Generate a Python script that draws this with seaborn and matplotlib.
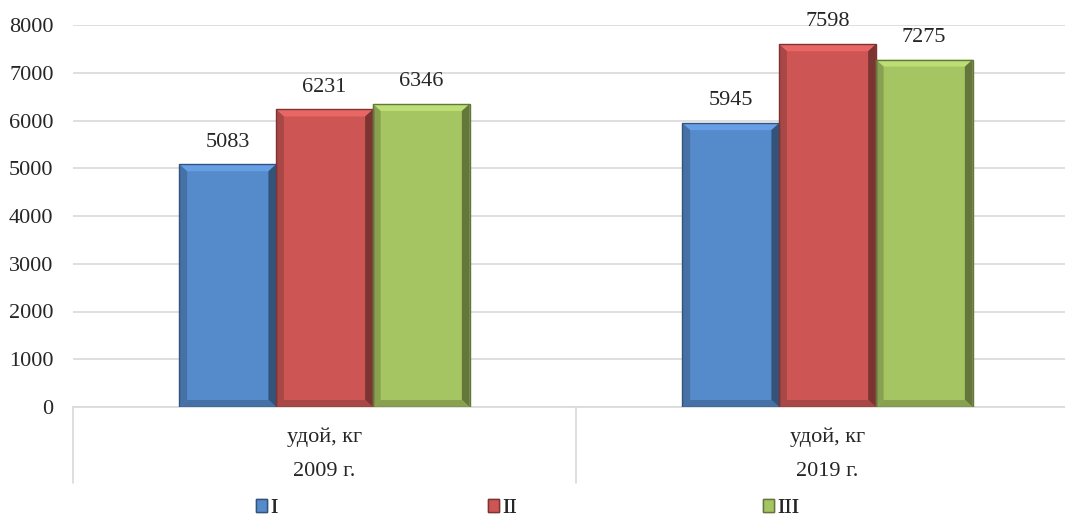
import seaborn as sns
import matplotlib.pyplot as plt
import matplotlib.colors as mcolors
from matplotlib.patches import Polygon, Rectangle
from matplotlib.lines import Line2D
import pandas as pd

# Данные
years = ["2009 г.", "2019 г."]
indicator = "удой, кг"
groups = ["I", "II", "III"]
vals_I = [5083, 5945]
vals_II = [6231, 7598]
vals_III = [6346, 7275]
colors = ["#558ACB", "#CD5654", "#A5C462"]

df = pd.DataFrame({
    "year": years * 3,
    "group": ["I"] * 2 + ["II"] * 2 + ["III"] * 2,
    "value": vals_I + vals_II + vals_III,
})

sns.set_style("white")
plt.rcParams["font.family"] = ["Liberation Serif", "DejaVu Serif"]
plt.rcParams["font.size"] = 16

fig = plt.figure(figsize=(10.65, 5.21), dpi=100)
ax = fig.add_axes([73 / 1065, 114 / 521, 1006 / 1065, 382 / 521])

sns.barplot(data=df, x="year", y="value", hue="group", hue_order=groups,
            palette=colors, width=0.577, saturation=1, ax=ax, legend=False,
            edgecolor="none", zorder=3)

ax.set_ylim(0, 8000)
ax.set_xlim(-0.5, 1.5)
ax.set_yticks(range(0, 8001, 1000))
ax.yaxis.grid(True, color="#d9d9d9", linewidth=1.2, zorder=0)
ax.tick_params(axis="y", length=0, pad=14, labelsize=16)
ax.set_xticks([])
ax.set_xlabel("")
ax.set_ylabel("")
for s in ["top", "right", "left"]:
    ax.spines[s].set_visible(False)
ax.spines["bottom"].set_color("#d9d9d9")
ax.spines["bottom"].set_linewidth(1.2)

# объёмный (скошенный) вид столбцов
px_y = 8000 / 382
for bar in list(ax.patches):
    x0, y0 = bar.get_x(), bar.get_y()
    w, h = bar.get_width(), bar.get_height()
    base = mcolors.to_rgb(bar.get_facecolor())
    bx = w * 0.08
    by = 7 * px_y
    x1, y1 = x0 + w, y0 + h
    light = tuple(min(1, c * 1.08 + 0.04) for c in base)
    dark = tuple(c * 0.6 for c in base)
    mid = tuple(c * 0.82 for c in base)
    ax.add_patch(Polygon([(x0, y1), (x1, y1), (x1 - bx, y1 - by), (x0 + bx, y1 - by)],
                         color=light, zorder=4, lw=0))
    ax.add_patch(Polygon([(x1, y1), (x1, y0), (x1 - bx, y0 + by), (x1 - bx, y1 - by)],
                         color=dark, zorder=4, lw=0))
    ax.add_patch(Polygon([(x0, y0), (x1, y0), (x1 - bx, y0 + by), (x0 + bx, y0 + by)],
                         color=mid, zorder=4, lw=0))
    ax.add_patch(Polygon([(x0, y1), (x0, y0), (x0 + bx, y0 + by), (x0 + bx, y1 - by)],
                         color=mid, zorder=4, lw=0))
    ax.add_patch(Rectangle((x0, y0), w, h, fill=False, edgecolor=dark, lw=1, zorder=5))
    ax.annotate(f"{int(h)}", (x0 + w / 2, y1), xytext=(0, 16), textcoords="offset points",
                ha="center", va="center", fontsize=16, zorder=6)

# подписи категорий (двухуровневые)
tr = ax.get_xaxis_transform()
for i, yr in enumerate(years):
    ax.text(i, -0.08, indicator, transform=tr, ha="center", va="center", fontsize=16)
    ax.text(i, -0.17, yr, transform=tr, ha="center", va="center", fontsize=16)
for xb in [-0.5, 0.5, 1.5]:
    ax.add_line(Line2D([xb, xb], [0, -0.2], transform=tr, color="#d9d9d9",
                       lw=1.2, clip_on=False))

# легенда
legend_x = [256 / 1065, 488 / 1065, 763 / 1065]
for g, c, lx in zip(groups, colors, legend_x):
    h = Rectangle((0, 0), 1, 1, facecolor=c,
                  edgecolor=tuple(v * 0.6 for v in mcolors.to_rgb(c)))
    leg = fig.legend([h], [g], loc="center left", bbox_to_anchor=(lx, 0.024),
                     frameon=False, fontsize=16, handlelength=0.5, handleheight=0.55,
                     handletextpad=0.15, borderpad=0, borderaxespad=0)
    fig.add_artist(leg)

fig.savefig("out.png", dpi=100)
